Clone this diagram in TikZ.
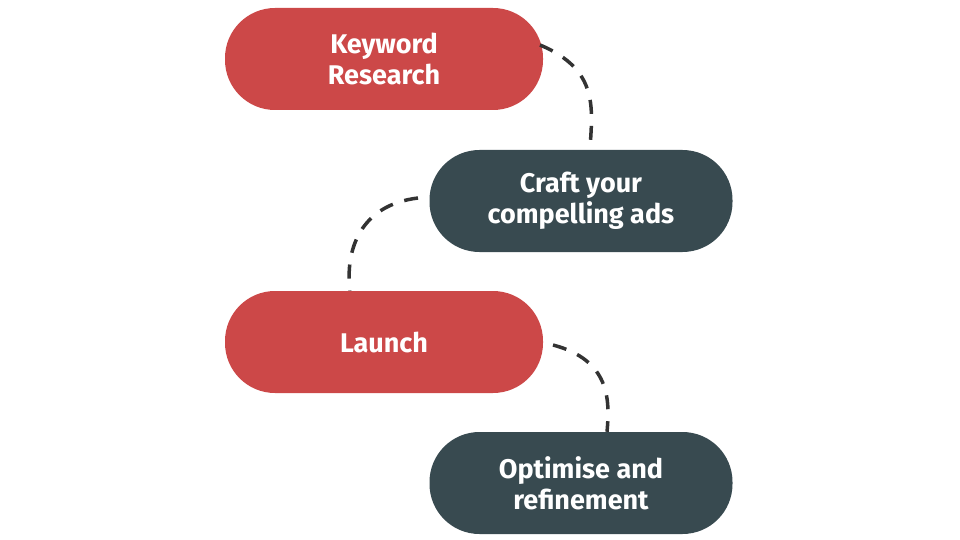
\documentclass[tikz,border=0pt]{standalone}
\usepackage{fontspec}
\setmainfont{Fira Sans}
\usetikzlibrary{positioning}
\definecolor{pillred}{RGB}{204,72,72}
\definecolor{pilldark}{RGB}{56,74,80}
\tikzset{
  pill/.style={rectangle, rounded corners=50pt, minimum width=318pt, minimum height=102pt, align=center, text=white, font=\fontsize{27}{31}\selectfont\bfseries},
  redpill/.style={pill, fill=pillred},
  darkpill/.style={pill, fill=pilldark, minimum width=303pt},
  link/.style={draw=black!80, line width=3.5pt, dash pattern=on 14pt off 12pt},
}
\begin{document}
\begin{tikzpicture}[x=1pt, y=-1pt]
  \useasboundingbox (0,0) rectangle (960,540);

  \node[redpill] (keyword) at (384,59) {Keyword\\Research};
  \node[darkpill] (craft) at (581,201) {Craft your\\compelling ads};
  \node[redpill] (launch) at (384,342) {Launch};
  \node[darkpill] (optimise) at (581,483) {Optimise and\\refinement};

  \coordinate (k1) at (540,45);
  \coordinate (c1) at (418,198);
  \coordinate (l1) at (553,345);

  \draw[link] (k1) .. controls (600,70) and (592,110) .. (craft.north -| 590,0);
  \draw[link] (c1) .. controls (360,205) and (345,250) .. (launch.north -| 350,0);
  \draw[link] (l1) .. controls (610,360) and (610,400) .. (optimise.north -| 607,0);
\end{tikzpicture}
\end{document}
